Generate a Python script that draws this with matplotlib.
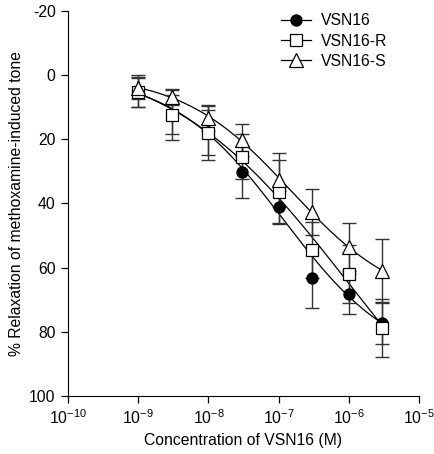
import numpy as np
import matplotlib
matplotlib.use('Agg')
import matplotlib.pyplot as plt
from matplotlib.ticker import FuncFormatter

plt.rcParams['font.family'] = ['Liberation Sans', 'DejaVu Sans']
plt.rcParams['axes.unicode_minus'] = False
plt.rcParams['mathtext.fontset'] = 'custom'
plt.rcParams['mathtext.rm'] = 'Liberation Sans'

# concentrations (M)
conc = [1e-9, 3e-9, 1e-8, 3e-8, 1e-7, 3e-7, 1e-6, 3e-6]

# % relaxation, mean and sem
vsn16 = [5.0, 12.3, 17.8, 30.2, 41.1, 63.2, 68.2, 77.3]
vsn16_err = [5.0, 6.0, 7.0, 8.0, 5.0, 9.5, 6.3, 6.5]
vsn16_r = [5.3, 12.5, 18.0, 25.5, 36.4, 54.5, 62.0, 78.8]
vsn16_r_err = [4.5, 7.7, 8.5, 7.0, 10.0, 8.7, 9.0, 9.0]
vsn16_s = [4.0, 6.9, 13.4, 20.2, 32.7, 42.7, 53.6, 61.0]
vsn16_s_err = [3.5, 2.5, 4.0, 5.0, 8.4, 7.2, 7.5, 10.0]

labels = ['VSN16', 'VSN16-R', 'VSN16-S']
markers = ['o', 's', '^']
faces = ['black', 'white', 'white']
sizes = [8, 8.5, 9.5]


def fit_logistic(x, y, err):
    # weighted grid search on logEC50 and slope, bottom/top by least squares
    lx = np.log10(x)
    y = np.asarray(y)
    w = 1.0 / np.asarray(err)
    best = None
    for lec in np.linspace(-9.5, -4.5, 201):
        for h in np.linspace(0.3, 1.5, 61):
            f = 1.0 / (1.0 + 10 ** ((lec - lx) * h))
            A = np.column_stack([np.ones_like(f), f])
            coef, *_ = np.linalg.lstsq(A * w[:, None], y * w, rcond=None)
            res = np.sum(((A @ coef - y) * w) ** 2)
            if best is None or res < best[0]:
                best = (res, lec, h, coef)
    _, lec, h, coef = best
    return lambda xx: coef[0] + coef[1] / (1.0 + 10 ** ((lec - np.log10(xx)) * h))


def sci(v, pos):
    e = int(round(np.log10(v)))
    return '10$^{\\mathrm{%d}}$' % e


fig = plt.figure(figsize=(4.34, 4.54), dpi=100)
ax = fig.add_axes([0.157, 0.128, 0.808, 0.848])

xs = np.logspace(-9, np.log10(3e-6), 200)
series = [(vsn16, vsn16_err), (vsn16_r, vsn16_r_err), (vsn16_s, vsn16_s_err)]

# fitted curves first
for vals, err in series:
    f = fit_logistic(conc, vals, err)
    ax.plot(xs, f(xs), color='black', lw=0.9, zorder=2)

for (vals, err), lab, m, fc, ms in zip(series, labels, markers, faces, sizes):
    ax.errorbar(conc, vals, yerr=err, fmt='none', ecolor='#333333',
                elinewidth=1.0, capsize=5, capthick=1.0, zorder=3)
    ax.plot(conc, vals, m, ms=ms, mfc=fc, mec='black', mew=0.9, zorder=4)
    ax.plot([], [], marker=m, ms=ms, mfc=fc, mec='black', mew=0.9,
            color='black', lw=0.9, label=lab)

ax.set_xscale('log')
ax.set_xlim(1e-10, 1e-5)
ax.set_ylim(100, -20)
ax.set_xticks([1e-10, 1e-9, 1e-8, 1e-7, 1e-6, 1e-5])
ax.xaxis.set_major_formatter(FuncFormatter(sci))
ax.minorticks_off()
ax.set_yticks([-20, 0, 20, 40, 60, 80, 100])

ax.spines['top'].set_visible(False)
ax.spines['right'].set_visible(False)
ax.tick_params(direction='out', length=5, width=0.9, labelsize=11.3, pad=4)

ax.set_xlabel('Concentration of VSN16 (M)', fontsize=11.3, labelpad=4)
ax.set_ylabel('% Relaxation of methoxamine-induced tone', fontsize=11.3, labelpad=4)

ax.legend(loc='upper left', bbox_to_anchor=(0.59, 1.01), frameon=False,
          fontsize=11.3, handlelength=1.9, handletextpad=0.6,
          labelspacing=0.33, borderaxespad=0)

fig.savefig('out.png', dpi=100)
